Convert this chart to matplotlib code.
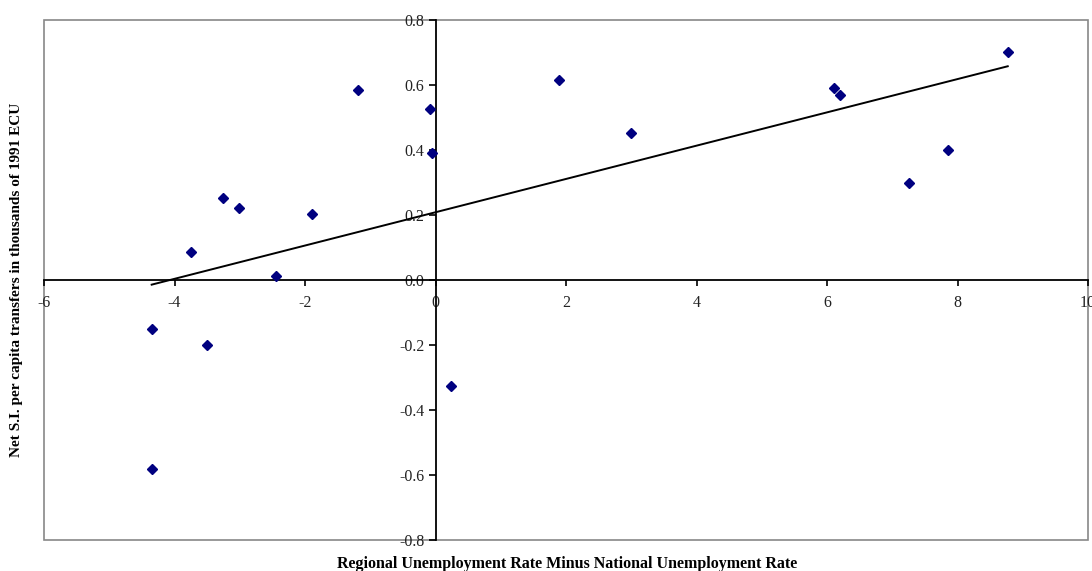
import matplotlib.pyplot as plt
from matplotlib.patches import Rectangle
import numpy as np

# regional unemployment gap vs net S.I. transfers
unemp_gap = [-4.35, -4.35, -3.74, -3.50, -3.25, -3.01, -2.45, -1.90, -1.19,
             -0.09, -0.06, 0.245, 1.90, 3.00, 6.10, 6.20, 7.26, 7.85, 8.77]
transfers = [-0.15, -0.58, 0.085, -0.201, 0.251, 0.221, 0.012, 0.202, 0.585,
             0.526, 0.392, -0.326, 0.615, 0.452, 0.592, 0.570, 0.300, 0.401, 0.702]
xticks = [-6, -4, -2, 0, 2, 4, 6, 8, 10]
yticks = [-0.8, -0.6, -0.4, -0.2, 0.0, 0.2, 0.4, 0.6, 0.8]

plt.rcParams['font.family'] = ['Liberation Serif', 'DejaVu Serif']

fig = plt.figure(figsize=(10.92, 5.71), dpi=100)
ax = fig.add_axes([44 / 1092, 1 - 540 / 571, 1044 / 1092, 520 / 571])

x = np.array(unemp_gap)
y = np.array(transfers)
ax.plot(x, y, linestyle='none', marker='D', ms=5.5, color='#000080', zorder=3)

# linear trend over the data range
slope, icept = np.polyfit(x, y, 1)
xs = np.array([x.min(), x.max()])
ax.plot(xs, slope * xs + icept, color='black', lw=1.4, zorder=2)

ax.set_xlim(-6, 10)
ax.set_ylim(-0.8, 0.8)

for side in ['top', 'right']:
    ax.spines[side].set_visible(False)
ax.spines['left'].set_position(('data', 0))
ax.spines['bottom'].set_position(('data', 0))
ax.spines['left'].set_linewidth(1.3)
ax.spines['bottom'].set_linewidth(1.3)
ax.add_patch(Rectangle((0, 0), 1, 1, transform=ax.transAxes, fill=False,
                       ec='#888888', lw=1.2, clip_on=False, zorder=1))

ax.set_xticks(xticks)
ax.set_xticklabels([str(t) for t in xticks])
ax.set_yticks(yticks)
ax.set_yticklabels([f'{t:.1f}' for t in yticks])
ax.tick_params(axis='x', direction='out', length=4, width=1.2, pad=7,
               labelsize=11.5, colors='black', labelcolor='#222222')
ax.tick_params(axis='y', direction='out', length=5, width=1.2, pad=3,
               labelsize=11.5, labelcolor='#222222')

fig.text(567 / 1092, 1 - 564 / 571, 'Regional Unemployment Rate Minus National Unemployment Rate',
         ha='center', va='center', fontsize=11.5, fontweight='bold')
fig.text(17 / 1092, 1 - 280 / 571, 'Net S.I. per capita transfers in thousands of 1991 ECU',
         ha='center', va='center', rotation=90, fontsize=11, fontweight='bold')

fig.savefig('out.png', dpi=100)
